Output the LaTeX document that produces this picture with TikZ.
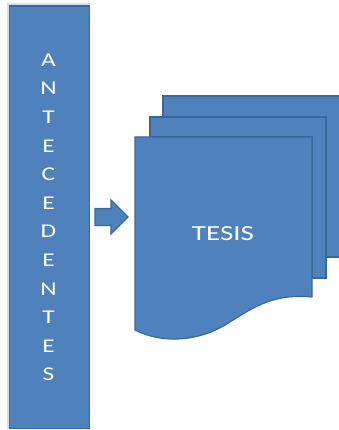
\documentclass[tikz,border=0pt]{standalone}
\usepackage{fontspec}
\setmainfont{Carlito}
\definecolor{fillblue}{HTML}{4F81BD}
\definecolor{edgeblue}{HTML}{3A679A}
\begin{document}
\begin{tikzpicture}[x=1pt,y=-1pt,
  shapefill/.style={fill=fillblue,draw=edgeblue,line width=1.2pt,line join=miter},
  lettertext/.style={text=white,font=\fontsize{19.5}{19.5}\selectfont,inner sep=0pt,anchor=center},
  titletext/.style={text=white,font=\fontsize{21.5}{21.5}\selectfont,inner sep=0pt}]
\useasboundingbox (0,0) rectangle (339,430);
% left bar
\draw[white!75!fillblue,line width=2pt] (7.5,4.5) rectangle (89,428);
\node[shapefill,minimum width=80pt,minimum height=422pt,inner sep=0pt,anchor=north west] (bar) at (8.5,5.5) {};
\foreach \ch [count=\i from 0] in {A,N,T,E,C,E,D,E,N,T,E,S}{
  \node[lettertext] (l\i) at (48.5,{60+\i*28.6}) {\scalebox{1.3}[1]{\ch}};
}
% arrow
\draw[shapefill] (95,208.5) -- (111,208.5) -- (111,200) -- (128,217) -- (111,234) -- (111,225.5) -- (95,225.5) -- cycle;
\coordinate (arr) at (111,217);
% back doc
\draw[shapefill] (163,96) -- (342,96) -- (342,257) -- (326,257) -- (326,117) -- (163,117) -- cycle;
% middle doc
\draw[shapefill] (150,117) -- (326,117) -- (326,278) -- (312,278) -- (312,137) -- (150,137) -- cycle;
% front doc
\draw[shapefill] (135,137) -- (312,137) -- (312,297)
   .. controls (270,293) and (250,310) .. (225,325)
   .. controls (200,340) and (165,345) .. (135,330) -- cycle;
\node[titletext] (tesis) at (223,234) {\scalebox{1.35}[1]{TESIS}};
\end{tikzpicture}
\end{document}
